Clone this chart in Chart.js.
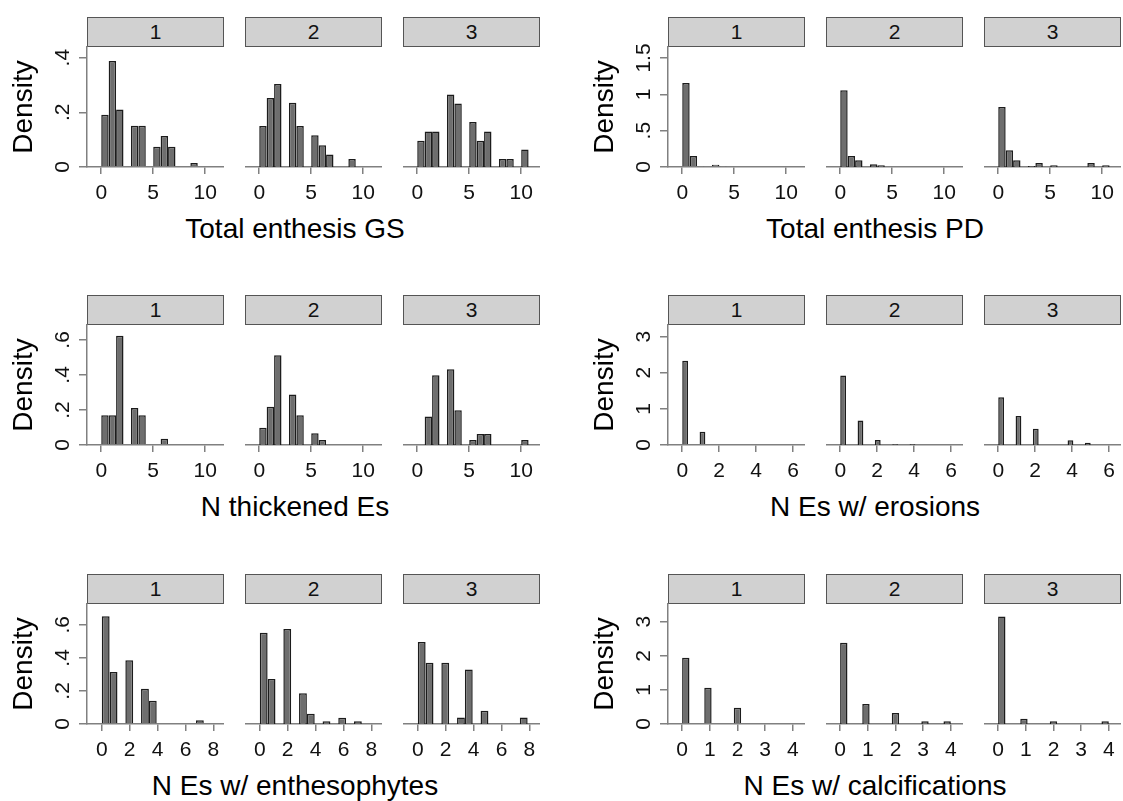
<!DOCTYPE html>
<html>
<head>
<meta charset="utf-8">
<script src="https://cdn.jsdelivr.net/npm/chart.js@4"></script>
<style>
  body { margin: 0; background: #fff; }
  #page { position: relative; width: 1123px; height: 801px; overflow: hidden; font-family: "Liberation Sans", Arial, sans-serif; }
  canvas { position: absolute; }
  .strip { position: absolute; box-sizing: border-box; height: 30px; background: #d1d1d1; border: 1.5px solid #555; font-size: 21px; line-height: 27px; text-align: center; color: #111; }
  .xtitle { position: absolute; font-size: 28px; transform: translate(-50%, -50%); white-space: nowrap; color: #000; }
</style>
</head>
<body>
<div id="page"></div>
<script>
// group labels (one facet per group)
const groups = ['1', '2', '3'];

// histogram bin midpoints, one list per variable
const scoreBins = [0.357, 1.071, 1.786, 2.5, 3.214, 3.929, 4.643, 5.357, 6.071, 6.786, 7.5, 8.214, 8.929, 9.643, 10.357];
const erosionBins = [0.156, 0.469, 0.781, 1.094, 1.406, 1.719, 2.031, 2.344, 2.656, 2.969, 3.281, 3.594, 3.906, 4.219, 4.531, 4.844];
const enthesoBins = [0.281, 0.844, 1.406, 1.969, 2.531, 3.094, 3.656, 4.219, 4.781, 5.344, 5.906, 6.469, 7.031, 7.594, 8.156, 8.719];
const calcBins = [0.133, 0.4, 0.667, 0.933, 1.2, 1.467, 1.733, 2.0, 2.267, 2.533, 2.8, 3.067, 3.333, 3.6, 3.867];

// densities per group (null = empty bin)
const gs1 = [0.191, 0.388, 0.210, null, 0.151, 0.151, null, 0.074, 0.113, 0.074, null, null, 0.015, null, null];
const gs2 = [0.150, 0.252, 0.304, null, 0.235, 0.150, null, 0.116, 0.080, 0.046, null, null, 0.029, null, null];
const gs3 = [0.096, 0.130, 0.130, null, 0.265, 0.232, null, 0.165, 0.096, 0.130, null, 0.029, 0.029, null, 0.064];

const pd1 = [1.156, 0.151, 0.014, null, 0.032, 0.014, null, null, null, null, null, null, null, null, null];
const pd2 = [1.055, 0.151, 0.092, null, 0.037, 0.023, null, null, null, null, null, null, null, null, null];
const pd3 = [0.826, 0.229, 0.092, null, 0.014, 0.055, null, 0.023, null, null, null, null, 0.055, null, 0.023];

const thick1 = [0.170, 0.170, 0.623, null, 0.211, 0.170, null, null, 0.036, null, null, null, null, null, null];
const thick2 = [0.099, 0.219, 0.512, null, 0.288, 0.170, null, 0.067, 0.029, null, null, null, null, null, null];
const thick3 = [null, 0.162, 0.398, null, 0.432, 0.198, null, 0.029, 0.063, 0.063, null, null, null, null, 0.029];

const ero1 = [2.33, null, null, 0.37, null, null, 0.02, null, null, 0.02, null, null, null, null, null, null];
const ero2 = [1.92, null, null, 0.68, null, null, 0.14, null, null, 0.02, null, null, 0.02, null, null, null];
const ero3 = [1.32, null, null, 0.80, null, null, 0.45, null, null, null, null, null, 0.13, null, null, 0.06];

const ent1 = [0.652, 0.314, null, 0.386, null, 0.214, 0.140, null, null, null, null, null, 0.022, null, null, null];
const ent2 = [0.552, 0.272, null, 0.574, null, 0.186, 0.062, null, 0.016, null, 0.038, null, 0.016, null, null, null];
const ent3 = [0.496, 0.370, null, 0.370, null, 0.040, 0.330, null, 0.080, null, null, null, null, 0.040, null, null];

const cal1 = [1.94, null, null, 1.065, null, null, null, 0.48, null, null, null, null, null, null, null];
const cal2 = [2.38, null, null, 0.59, null, null, null, 0.32, null, null, null, 0.08, null, null, 0.08];
const cal3 = [3.15, null, null, 0.155, null, null, null, 0.08, null, null, null, null, null, null, 0.08];

// tick values
const scoreTicks = [0, 5, 10];
const erosionTicks = [0, 2, 4, 6];
const enthesoTicks = [0, 2, 4, 6, 8];
const calcTicks = [0, 1, 2, 3, 4];
const smallDensityTicks = [0, 0.2, 0.4];
const pdDensityTicks = [0, 0.5, 1, 1.5];
const midDensityTicks = [0, 0.2, 0.4, 0.6];
const bigDensityTicks = [0, 1, 2, 3];

const panels = [
  { title: 'Total enthesis GS', bins: scoreBins, facets: [gs1, gs2, gs3], xTicks: scoreTicks, yTicks: smallDensityTicks, xMin: -1.37, xMax: 11.81, yMax: 0.439, col: 0, row: 0 },
  { title: 'Total enthesis PD', bins: scoreBins, facets: [pd1, pd2, pd3], xTicks: scoreTicks, yTicks: pdDensityTicks, xMin: -1.37, xMax: 11.81, yMax: 1.651, col: 1, row: 0 },
  { title: 'N thickened Es', bins: scoreBins, facets: [thick1, thick2, thick3], xTicks: scoreTicks, yTicks: midDensityTicks, xMin: -1.37, xMax: 11.81, yMax: 0.685, col: 0, row: 1 },
  { title: 'N Es w/ erosions', bins: erosionBins, facets: [ero1, ero2, ero3], xTicks: erosionTicks, yTicks: bigDensityTicks, xMin: -0.77, xMax: 6.64, yMax: 3.32, col: 1, row: 1 },
  { title: 'N Es w/ enthesophytes', bins: enthesoBins, facets: [ent1, ent2, ent3], xTicks: enthesoTicks, yTicks: midDensityTicks, xMin: -1.06, xMax: 8.76, yMax: 0.726, col: 0, row: 2 },
  { title: 'N Es w/ calcifications', bins: calcBins, facets: [cal1, cal2, cal3], xTicks: calcTicks, yTicks: bigDensityTicks, xMin: -0.51, xMax: 4.44, yMax: 3.52, col: 1, row: 2 }
];

// layout
const colLeft = [87, 668];
const titleX = [295, 875];
const facetStep = 158;
const plotW = 137;
const plotTop = [47, 325, 604];
const plotH = 120;
const stripH = 30;
const axisW = 84;
const axisH = 40;
const padT = 20;   // room above the plot so top y labels are not clipped
const fontFamily = '"Liberation Sans", Arial, sans-serif';
const tickSize = 21;
const tickFont = { family: fontFamily, size: tickSize };
const axisColor = '#808080';

function fmtTick(v) {
  return v === 0 ? '0' : String(v).replace(/^0\./, '.');
}

const page = document.getElementById('page');
const measure = document.createElement('canvas').getContext('2d');
measure.font = tickSize + 'px ' + fontFamily;

panels.forEach(function (p) {
  const top = plotTop[p.row];
  const widest = Math.max(...p.yTicks.map(v => measure.measureText(fmtTick(v)).width));

  p.facets.forEach(function (vals, g) {
    const plotLeft = colLeft[p.col] + g * facetStep;
    const first = g === 0;

    const strip = document.createElement('div');
    strip.className = 'strip';
    strip.style.left = plotLeft + 'px';
    strip.style.top = (top - stripH) + 'px';
    strip.style.width = plotW + 'px';
    strip.textContent = groups[g];
    page.appendChild(strip);

    const padL = first ? axisW : 0;
    const cv = document.createElement('canvas');
    cv.width = plotW + padL;
    cv.height = padT + plotH + axisH;
    cv.style.left = (plotLeft - padL) + 'px';
    cv.style.top = (top - padT) + 'px';
    page.appendChild(cv);

    new Chart(cv, {
      type: 'bar',
      data: {
        datasets: [{
          data: p.bins.map((x, i) => ({ x: x, y: vals[i] })),
          backgroundColor: '#6e6e6e',
          borderColor: '#1c1c1c',
          borderWidth: 1.5,
          barPercentage: 1,
          categoryPercentage: 1,
          inflateAmount: 0
        }]
      },
      options: {
        responsive: false,
        animation: false,
        layout: { padding: { top: padT, left: 0, right: 0, bottom: 0 }, autoPadding: false },
        plugins: { legend: { display: false }, tooltip: { enabled: false } },
        scales: {
          x: {
            type: 'linear',
            min: p.xMin,
            max: p.xMax,
            offset: false,
            grid: { display: true, drawOnChartArea: false, drawTicks: true, tickLength: 7, color: axisColor, lineWidth: 1.5, offset: false },
            border: { display: true, color: axisColor, width: 1.5 },
            ticks: { font: tickFont, color: '#111', padding: 7, maxRotation: 0, autoSkip: false, callback: v => fmtTick(v) },
            afterBuildTicks: a => { a.ticks = p.xTicks.map(v => ({ value: v })); },
            afterFit: a => { a.height = axisH; a.paddingLeft = 0; a.paddingRight = 0; }
          },
          y: {
            display: first,
            min: 0,
            max: p.yMax,
            grid: { display: true, drawOnChartArea: false, drawTicks: true, tickLength: 8, color: axisColor, lineWidth: 1.5 },
            border: { display: true, color: axisColor, width: 1.5 },
            ticks: { font: tickFont, color: '#111', minRotation: 90, maxRotation: 90, crossAlign: 'center', padding: 16 - widest / 2, autoSkip: false, callback: v => fmtTick(v) },
            title: { display: true, text: 'Density', font: { family: fontFamily, size: 28 }, color: '#000', padding: 4 },
            afterBuildTicks: a => { a.ticks = p.yTicks.map(v => ({ value: v })); },
            afterFit: a => { a.width = first ? axisW : 0; a.paddingTop = 0; a.paddingBottom = 0; }
          }
        }
      }
    });
  });

  const t = document.createElement('div');
  t.className = 'xtitle';
  t.style.left = titleX[p.col] + 'px';
  t.style.top = (top + plotH + 61.5) + 'px';
  t.textContent = p.title;
  page.appendChild(t);
});
</script>
</body>
</html>
